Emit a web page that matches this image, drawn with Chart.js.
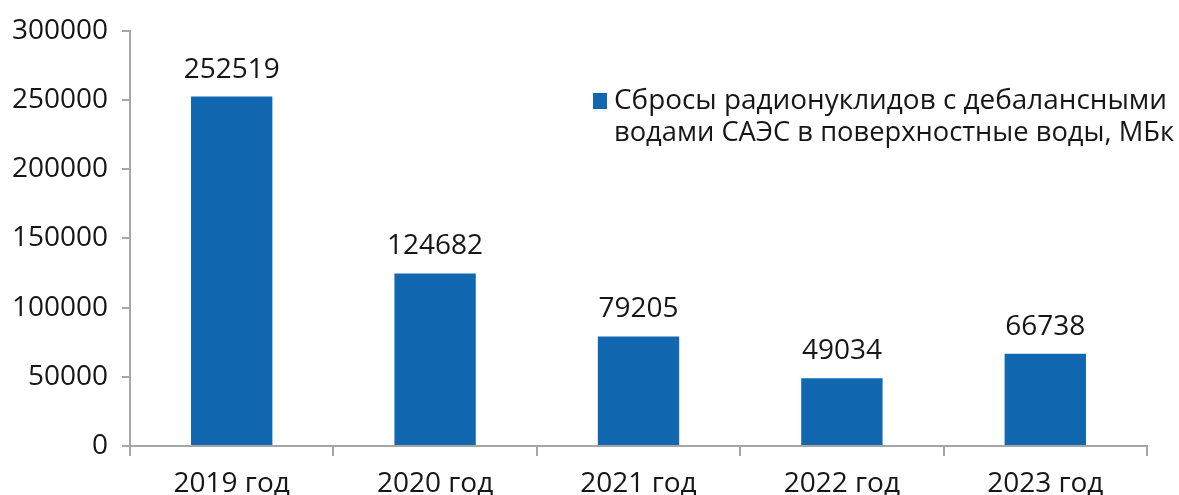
<!DOCTYPE html>
<html>
<head>
<meta charset="utf-8">
<script src="https://cdn.jsdelivr.net/npm/chart.js@4"></script>
<style>
  html, body { margin: 0; padding: 0; background: #fff; }
  #wrap { width: 1179px; height: 495px; }
</style>
</head>
<body>
<div id="wrap"><canvas id="myChart"></canvas></div>
<script>
var years = ["2019 год", "2020 год", "2021 год", "2022 год", "2023 год"]
var discharges = [252519, 124682, 79205, 49034, 66738]
var seriesName = ["Сбросы радионуклидов с дебалансными", "водами САЭС в поверхностные воды, МБк"]
var yTicks = [0, 50000, 100000, 150000, 200000, 250000, 300000]

var blue = '#1268b0'
var axisGray = '#a6a6a6'
var txt = '#161616'
var fontFam = '"Open Sans", "Noto Sans", sans-serif'

// values above the bars
var valueLabels = {
    id: 'valueLabels',
    afterDatasetsDraw: function (chart) {
        var ctx = chart.ctx
        var meta = chart.getDatasetMeta(0)
        ctx.save()
        ctx.font = '28px ' + fontFam
        ctx.fillStyle = txt
        ctx.textAlign = 'center'
        ctx.textBaseline = 'alphabetic'
        meta.data.forEach(function (bar, i) {
            ctx.fillText(String(discharges[i]), bar.x, bar.y - 19)
        })
        ctx.restore()
    }
}

// two-line legend at the right
var sideLegend = {
    id: 'sideLegend',
    afterDraw: function (chart) {
        var ctx = chart.ctx
        var widths = [553, 560]
        ctx.save()
        ctx.fillStyle = blue
        ctx.fillRect(593, 93, 14, 16)
        ctx.font = '28px ' + fontFam
        ctx.fillStyle = txt
        ctx.textAlign = 'left'
        ctx.textBaseline = 'middle'
        seriesName.forEach(function (line, i) {
            ctx.fillText(line, 614, 101 + i * 32, widths[i])
        })
        ctx.restore()
    }
}

var ctx = document.getElementById("myChart")
var myBarChart = new Chart(ctx, {
    type: 'bar',
    data: {
        labels: years,
        datasets: [{
            label: seriesName.join(' '),
            data: discharges,
            backgroundColor: blue,
            borderWidth: 0
        }]
    },
    options: {
        responsive: true,
        maintainAspectRatio: false,
        animation: false,
        layout: { padding: { top: 28, right: 32, left: 0, bottom: 0 } },
        plugins: {
            legend: { display: false },
            tooltip: { enabled: false }
        },
        datasets: {
            bar: { categoryPercentage: 1, barPercentage: 0.4 }
        },
        scales: {
            x: {
                grid: {
                    display: true,
                    drawOnChartArea: false,
                    offset: true,
                    tickLength: 10,
                    color: axisGray,
                    lineWidth: 2
                },
                border: { color: axisGray, width: 2 },
                ticks: {
                    color: txt,
                    padding: 11,
                    font: { family: fontFam, size: 28 }
                },
                afterFit: function (scale) { scale.height = 49 }
            },
            y: {
                min: 0,
                max: 300000,
                afterBuildTicks: function (scale) {
                    scale.ticks = yTicks.map(function (v) { return { value: v } })
                },
                grid: {
                    display: true,
                    drawOnChartArea: false,
                    tickLength: 8,
                    color: axisGray,
                    lineWidth: 2
                },
                border: { color: axisGray, width: 2 },
                ticks: {
                    color: txt,
                    padding: 14,
                    font: { family: fontFam, size: 28 },
                    callback: function (v) { return String(v) }
                },
                afterFit: function (scale) { scale.width = 130 }
            }
        }
    },
    plugins: [valueLabels, sideLegend]
})
</script>
</body>
</html>
